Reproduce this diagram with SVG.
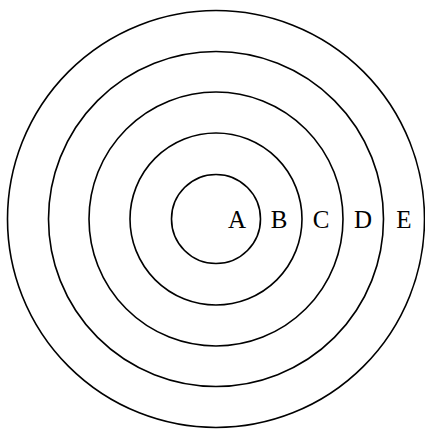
<svg xmlns="http://www.w3.org/2000/svg" width="425" height="430" viewBox="0 0 425 430">
<style>
.ring{fill:none;stroke:#000;stroke-width:1.6}
.lbl{font-family:"Liberation Serif","DejaVu Serif",serif;font-size:25px;fill:#000;text-anchor:middle}
</style>
<rect width="425" height="430" fill="#fff"/>
<g id="E"><circle class="ring" cx="216" cy="219" r="208.5"/><text class="lbl" x="404" y="228">E</text></g>
<g id="D"><circle class="ring" cx="216" cy="219" r="167.5"/><text class="lbl" x="363" y="228">D</text></g>
<g id="C"><circle class="ring" cx="216" cy="219" r="127"/><text class="lbl" x="321" y="228">C</text></g>
<g id="B"><circle class="ring" cx="216" cy="219" r="86"/><text class="lbl" x="279" y="228">B</text></g>
<g id="A"><circle class="ring" cx="216" cy="219" r="44.5"/><text class="lbl" x="237" y="228">A</text></g>
<g id="connectors"></g>
</svg>
